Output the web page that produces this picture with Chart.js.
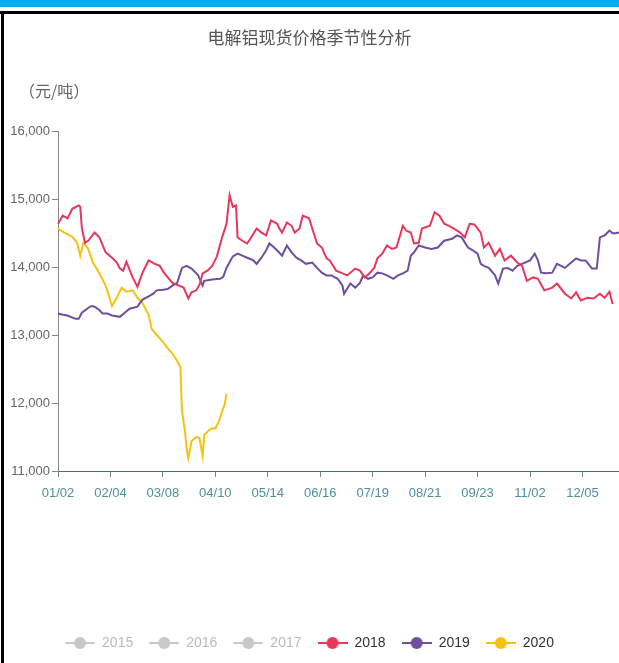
<!DOCTYPE html>
<html><head><meta charset="utf-8">
<script src="https://cdn.jsdelivr.net/npm/chart.js@4.4.1/dist/chart.umd.min.js"></script>
<style>
html,body{margin:0;padding:0;background:#fff;overflow:hidden;}
#wrap{position:relative;width:619px;height:663px;overflow:hidden;}
#bar{position:absolute;left:0;top:0;width:619px;height:7px;background:#00aeef;}
#frameTop{position:absolute;left:0;top:11px;width:619px;height:3px;background:#000;}
#frameLeft{position:absolute;left:1px;top:11px;width:3px;height:652px;background:#000;}
canvas{position:absolute;left:0;top:0;}
</style></head><body>
<div id="wrap"><canvas id="c" width="619" height="663"></canvas><div id="bar"></div><div id="frameTop"></div><div id="frameLeft"></div></div>
<script>
// ---- categories: trading calendar days (month/day), closed days excluded ----
const monthDays = [31,29,31,30,31,30,31,31,30,31,30,31];
const closedDays = ['01/01','05/01','10/01','10/02','10/03','10/04','10/05','10/06','10/07'];
const pad2 = n => (n < 10 ? '0' : '') + n;
const categories = [];
for (let m = 1; m <= 12; m++) for (let d = 1; d <= monthDays[m-1]; d++) {
  const s = pad2(m) + '/' + pad2(d);
  if (!closedDays.includes(s)) categories.push(s);
}
const xTickLabels = ['01/02','02/04','03/08','04/10','05/14','06/16','07/19','08/21','09/23','11/02','12/05'];
const yTicks = [11000,12000,13000,14000,15000,16000];
const seriesNames = ['2015','2016','2017','2018','2019','2020'];

const dates2018 = ['01/02','01/05','01/08','01/11','01/15','01/16','01/17','01/19','01/21','01/25','01/28','02/01','02/05','02/08','02/10','02/12','02/14','02/18','02/21','02/24','02/28','03/03','03/06','03/09','03/14','03/17','03/21','03/24','03/26','03/29','03/31','04/02','04/05','04/08','04/11','04/14','04/17','04/19','04/21','04/23','04/24','04/27','04/30','05/03','05/07','05/10','05/13','05/16','05/20','05/21','05/23','05/26','05/29','05/31','06/03','06/05','06/09','06/11','06/14','06/17','06/20','06/22','06/26','06/30','07/03','07/08','07/11','07/14','07/17','07/20','07/22','07/25','07/28','07/31','08/03','08/07','08/09','08/12','08/14','08/17','08/19','08/24','08/27','08/30','09/02','09/05','09/08','09/12','09/15','09/18','09/21','09/25','09/27','09/30','10/11','10/14','10/17','10/21','10/25','10/28','10/31','11/04','11/07','11/11','11/16','11/19','11/24','11/28','12/01','12/04','12/08','12/12','12/16','12/19','12/22','12/24'];
const values2018 = [14640,14760,14720,14860,14910,14890,14580,14360,14390,14510,14440,14220,14140,14070,13980,13950,14080,13850,13710,13910,14100,14050,14020,13910,13770,13740,13700,13540,13630,13660,13740,13910,13950,14020,14160,14420,14640,15060,14890,14910,14440,14390,14350,14420,14570,14510,14470,14690,14640,14580,14510,14660,14610,14510,14570,14760,14720,14570,14350,14290,14130,14100,13950,13910,13880,13980,13950,13850,13910,13990,14130,14200,14320,14270,14290,14610,14540,14510,14350,14360,14570,14610,14810,14760,14640,14610,14570,14510,14440,14640,14630,14510,14290,14360,14170,14270,14100,14170,14070,14020,13800,13850,13830,13660,13700,13760,13610,13540,13630,13510,13550,13540,13610,13550,13640,13460];

const dates2019 = ['01/02','01/05','01/08','01/13','01/15','01/17','01/21','01/23','01/25','01/28','01/30','02/02','02/05','02/10','02/13','02/16','02/21','02/24','02/28','03/02','03/04','03/08','03/11','03/14','03/17','03/20','03/23','03/26','03/30','04/02','04/03','04/08','04/13','04/15','04/17','04/21','04/24','04/27','04/30','05/05','05/07','05/10','05/13','05/15','05/18','05/21','05/23','05/26','05/29','06/01','06/04','06/07','06/11','06/14','06/17','06/20','06/23','06/27','06/30','07/01','07/05','07/08','07/11','07/13','07/16','07/19','07/22','07/25','07/28','08/01','08/04','08/07','08/10','08/12','08/14','08/17','08/21','08/25','08/29','09/02','09/07','09/10','09/13','09/17','09/20','09/23','09/25','09/27','09/30','10/11','10/13','10/16','10/19','10/22','10/25','10/28','11/02','11/05','11/07','11/09','11/12','11/16','11/19','11/24','11/27','12/01','12/04','12/07','12/11','12/14','12/16','12/19','12/22','12/24','12/26','12/28'];
const values2019 = [13320,13300,13290,13240,13240,13330,13400,13430,13420,13370,13320,13320,13290,13270,13330,13390,13420,13520,13570,13610,13660,13670,13680,13730,13770,13990,14020,13980,13890,13730,13800,13820,13830,13860,13990,14160,14200,14170,14140,14100,14050,14140,14250,14350,14290,14220,14170,14320,14220,14140,14100,14050,14070,13990,13920,13880,13880,13830,13730,13610,13760,13700,13770,13880,13830,13850,13920,13910,13880,13830,13880,13910,13950,14170,14220,14320,14290,14270,14290,14390,14420,14470,14440,14290,14250,14200,14050,14020,13990,13880,13760,13980,13990,13950,14020,14050,14100,14200,14100,13920,13910,13920,14050,13990,14050,14130,14100,14100,13980,13980,14440,14470,14540,14500,14500,14510];

const dates2020 = ['01/02','01/06','01/11','01/14','01/16','01/18','01/21','01/24','01/28','02/01','02/04','02/05','02/08','02/11','02/14','02/18','02/21','02/24','02/28','03/01','03/05','03/08','03/11','03/14','03/17','03/19','03/20','03/22','03/23','03/24','03/26','03/29','03/31','04/02','04/03','04/07','04/10','04/12','04/14','04/16','04/17'];
const values2020 = [14570,14510,14450,14360,14170,14360,14270,14070,13910,13730,13510,13430,13550,13700,13640,13660,13550,13480,13300,13090,12980,12900,12810,12730,12620,12530,11890,11560,11320,11190,11440,11500,11490,11220,11530,11620,11630,11720,11860,11990,12140];

const seriesColors = ['#c8c8c8','#c8c8c8','#c8c8c8','#e8375b','#6c4f9e','#f6c20f'];
const seriesDates = [[],[],[],dates2018,dates2019,dates2020];
const seriesValues = [[],[],[],values2018,values2019,values2020];

const sans = '"Liberation Sans",Arial,sans-serif';
const cjk = '"Noto Sans CJK SC","Noto Sans CJK JP",sans-serif';

function makeMarker(color){
  const c = document.createElement('canvas'); c.width = 30; c.height = 14;
  const g = c.getContext('2d');
  g.strokeStyle = color; g.lineWidth = 2;
  g.beginPath(); g.moveTo(0,7); g.lineTo(30,7); g.stroke();
  g.fillStyle = color; g.beginPath(); g.arc(15,7,6,0,Math.PI*2); g.fill();
  return c;
}

const datasets = seriesNames.map((name, i) => ({
  label: name,
  data: seriesDates[i].map((d, k) => ({x: d, y: seriesValues[i][k]})),
  borderColor: seriesColors[i],
  backgroundColor: seriesColors[i],
  borderWidth: 2,
  pointRadius: 0,
  pointHoverRadius: 0,
  tension: 0,
  fill: false,
  spanGaps: true
}));

const unitLabel = {
  id: 'unitLabel',
  afterDraw(chart){
    const ctx = chart.ctx;
    ctx.save();
    ctx.font = '16px ' + cjk;
    ctx.fillStyle = '#666';
    ctx.textBaseline = 'middle';
    ctx.textAlign = 'left';
    ctx.fillText('（元/吨）', 19, 91);
    ctx.restore();
  }
};

new Chart(document.getElementById('c'), {
  type: 'line',
  data: { labels: categories, datasets },
  plugins: [unitLabel],
  options: {
    responsive: false,
    animation: false,
    layout: { padding: { top: 14, left: 0, right: 0, bottom: 3 } },
    plugins: {
      title: {
        display: true,
        text: '电解铝现货价格季节性分析',
        color: '#555',
        font: { family: cjk, size: 17, weight: 'normal' },
        padding: { top: 13, bottom: 84 }
      },
      legend: {
        position: 'bottom',
        labels: {
          usePointStyle: true,
          pointStyleWidth: 30,
          boxHeight: 14,
          padding: 16,
          font: { family: sans, size: 14 },
          color: '#333',
          generateLabels(chart){
            const items = Chart.defaults.plugins.legend.labels.generateLabels(chart);
            items.forEach((it, i) => {
              const active = seriesDates[i].length > 0;
              it.pointStyle = makeMarker(seriesColors[i]);
              it.fontColor = active ? '#333' : '#bbb';
              it.hidden = false;
            });
            return items;
          }
        }
      },
      tooltip: { enabled: false }
    },
    scales: {
      x: {
        type: 'category',
        max: '12/28',
        offset: false,
        afterBuildTicks(scale){
          scale.ticks = scale.ticks.filter(t => xTickLabels.includes(categories[t.value]));
        },
        afterFit(scale){ scale.height = 149; },
        ticks: { autoSkip: false, maxRotation: 0, color: '#4f8f9f', font: { family: sans, size: 13 }, padding: 9 },
        grid: { drawOnChartArea: false, drawTicks: true, tickLength: 6, color: '#6a8d95' },
        border: { display: true, color: '#4f6f77', width: 1 }
      },
      y: {
        min: 11000, max: 16000,
        afterBuildTicks(scale){ scale.ticks = yTicks.map(v => ({value: v})); },
        afterFit(scale){ scale.width = 58; },
        ticks: { color: '#666', font: { family: sans, size: 13 }, padding: 2,
          callback: v => v.toLocaleString('en-US') },
        grid: { drawOnChartArea: false, drawTicks: true, tickLength: 6, color: '#888' },
        border: { display: true, color: '#888', width: 1 }
      }
    }
  }
});
</script>
</body></html>
